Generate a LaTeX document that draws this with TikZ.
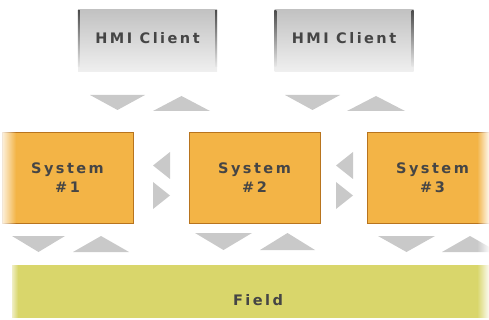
\documentclass[tikz,border=0pt]{standalone}
\usepackage{fontspec}
\usetikzlibrary{fadings}
\newfontfamily\lbl{DejaVu Sans}[LetterSpace=17.0]
\definecolor{sysfill}{HTML}{F3B446}
\definecolor{sysedge}{HTML}{B8741E}
\definecolor{fieldfill}{HTML}{D9D66B}
\definecolor{trifill}{HTML}{C9C9C9}
\definecolor{txt}{HTML}{454545}
\tikzset{
  lbltext/.style={text=txt, font=\lbl\bfseries\fontsize{14.5}{19}\selectfont, align=center},
  hmibox/.style={top color=black!24, bottom color=black!6, minimum width=139pt, minimum height=62pt, inner sep=0pt},
  sysbox/.style={lbltext, fill=sysfill, draw=sysedge, line width=0.8pt, minimum width=131pt, minimum height=91pt, inner sep=0pt},
  fieldbox/.style={fill=fieldfill, minimum width=485pt, minimum height=53pt, inner sep=0pt},
  tri/.style={fill=trifill},
  hmiedge/.style={top color=black!70, bottom color=black!10}
}
\begin{document}
\begin{tikzpicture}[x=1pt,y=-1pt]
\useasboundingbox (0,0) rectangle (489,320);
% HMI clients
\node[hmibox] (hmi1) at (147.5,41) {};
\node[lbltext] (hmi1lbl) at (147.5,38) {HMI Client};
\node[hmibox] (hmi2) at (344,41) {};
\node[lbltext] (hmi2lbl) at (344,38) {HMI Client};
\foreach \h in {hmi1,hmi2}{
  \shade[hmiedge] ([yshift=-1pt]\h.north west) rectangle ([xshift=2pt,yshift=6pt]\h.south west);
  \shade[hmiedge] ([yshift=-1pt]\h.north east) rectangle ([xshift=-2pt,yshift=6pt]\h.south east);
}
% systems
\node[sysbox] (s1) at (67.5,177.5) {System\\\#1};
\node[sysbox] (s2) at (254.5,177.5) {System\\\#2};
\node[sysbox] (s3) at (432.5,177.5) {System\\\#3};
% field
\node[fieldbox] (field) at (254.5,291.5) {};
\node[lbltext, anchor=base] (fieldlbl) at (258,305) {Field};
% triangles under HMI clients
\fill[tri] (90,95) -- (145,95) -- (117.5,110) -- cycle;
\fill[tri] (153,111) -- (210,111) -- (181.5,96) -- cycle;
\fill[tri] (285,95) -- (340,95) -- (312.5,110) -- cycle;
\fill[tri] (347,111) -- (405,111) -- (376,96) -- cycle;
% side triangles
\fill[tri] (170,152) -- (170,179) -- (153,165.5) -- cycle;
\fill[tri] (153,182) -- (153,209) -- (170,195.5) -- cycle;
\fill[tri] (353,152) -- (353,179) -- (336,165.5) -- cycle;
\fill[tri] (336,182) -- (336,209) -- (353,195.5) -- cycle;
% bottom triangles
\fill[tri] (12,236) -- (65,236) -- (38.5,252) -- cycle;
\fill[tri] (73,252) -- (129,252) -- (101,236) -- cycle;
\fill[tri] (195,233) -- (252,233) -- (223.5,250) -- cycle;
\fill[tri] (260,250) -- (315,250) -- (287.5,233) -- cycle;
\fill[tri] (378,236) -- (435,236) -- (406.5,252) -- cycle;
\fill[tri] (442,252) -- (498,252) -- (470,236) -- cycle;
% edge fades
\fill[white, path fading=east] (-1,125) rectangle (16,230);
\fill[white, path fading=east] (8,260) rectangle (18,321);
\fill[white, path fading=west] (477,125) rectangle (490,321);
\end{tikzpicture}
\end{document}
